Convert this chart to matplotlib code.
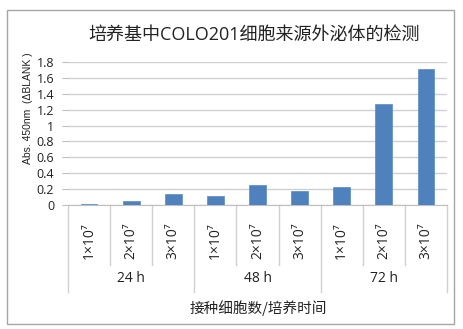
import matplotlib
matplotlib.use("Agg")
import matplotlib.pyplot as plt
from matplotlib.patches import Rectangle
from matplotlib.transforms import blended_transform_factory

# Data
groups = ["24 h", "48 h", "72 h"]
densities = ["1×10⁷", "2×10⁷", "3×10⁷"]
values = [0.02, 0.055, 0.14, 0.12, 0.255, 0.175, 0.235, 1.265, 1.705]
yticks = [0, 0.2, 0.4, 0.6, 0.8, 1, 1.2, 1.4, 1.6, 1.8]
ytick_labels = ["0", "0.2", "0.4", "0.6", "0.8", "1", "1.2", "1.4", "1.6", "1.8"]
title = "培养基中COLO201细胞来源外泌体的检测"
ylabel = "Abs. 450nm  (ΔBLANK )"
xlabel = "接种细胞数/培养时间"

latin = ["Open Sans", "Noto Sans", "DejaVu Sans"]
narrow = ["Liberation Sans", "Noto Sans CJK SC", "DejaVu Sans"]
cjk = ["Noto Sans CJK SC", "DejaVu Sans"]
mixed = ["Open Sans", "Noto Sans CJK SC", "DejaVu Sans"]

W, H = 463, 329
fig = plt.figure(figsize=(W / 100, H / 100), dpi=100)

def fx(px):
    return px / W

def fy(py):
    return 1 - py / H

# outer frame
fig.patches.append(Rectangle((fx(7), fy(324)), fx(454) - fx(7), fy(10) - fy(324),
                             transform=fig.transFigure, fill=False,
                             edgecolor="#a6a6a6", linewidth=1.0))

x0, x1, y0, y1 = 68, 447, 205.3, 61.7
ax = fig.add_axes([fx(x0), fy(y0), fx(x1) - fx(x0), fy(y1) - fy(y0)])

n = len(values)
xs = list(range(n))
ax.bar(xs, values, width=0.4, color="#4f81bd", edgecolor="#5a8ac6", linewidth=0.5, zorder=3)
ax.set_xlim(-0.5, n - 0.5)
ax.set_ylim(0, 1.8)

ax.set_yticks(yticks)
ax.set_yticklabels(ytick_labels, family=latin, fontsize=9, color="#222222")
ax.tick_params(axis="y", length=4, color="#bfbfbf", pad=6)
ax.tick_params(axis="x", length=0, labelbottom=False)
ax.grid(axis="y", color="#d0d0d0", linewidth=1.0, zorder=0)
for s in ["top", "right", "left"]:
    ax.spines[s].set_visible(False)
ax.spines["bottom"].set_color("#bfbfbf")

trans = blended_transform_factory(ax.transData, ax.transAxes)
ah = y0 - y1  # axes height in pixels

def ay(py):
    return (y0 - py) / ah

# category dividers and labels
for i in range(n + 1):
    xb = i - 0.5
    bottom = 292 if i % 3 == 0 else 265
    ax.plot([xb, xb], [0, ay(bottom)], transform=trans, color="#d0d0d0",
            linewidth=1.0, clip_on=False)
for i in range(n):
    ax.text(i, ay(241), densities[i % 3], transform=trans, rotation=90,
            ha="center", va="center", fontsize=10, family=latin, color="#222222")
for g, name in enumerate(groups):
    ax.text(3 * g + 1, ay(278), name, transform=trans, ha="center", va="center",
            fontsize=10, family=latin, color="#222222")

fig.text(fx(258), fy(308), xlabel, ha="center", va="center", fontsize=10.5,
         family=cjk, color="#222222")
fig.text(fx(28), fy(108), ylabel, ha="center", va="center", rotation=90,
         fontsize=7.5, family=narrow, color="#222222")
fig.text(fx(254), fy(35), title, ha="center", va="center", fontsize=13,
         family=mixed, color="#222222")

fig.savefig("out.png", dpi=100)
